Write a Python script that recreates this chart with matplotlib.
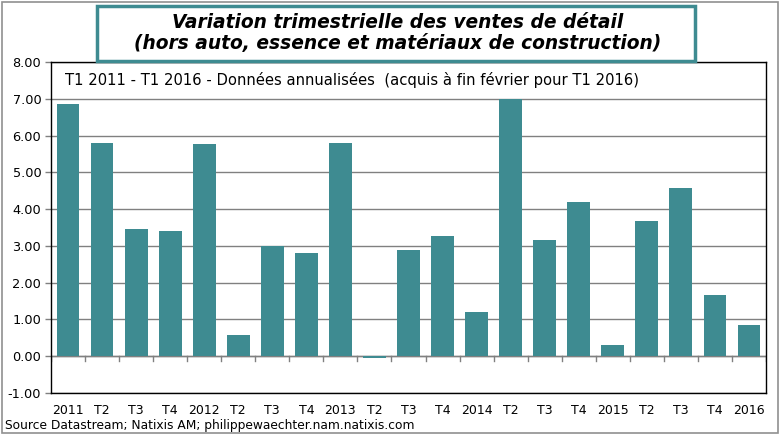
import matplotlib
matplotlib.use('Agg')
import matplotlib.pyplot as plt
from matplotlib.patches import Rectangle

# data
labels = ['2011', 'T2', 'T3', 'T4', '2012', 'T2', 'T3', 'T4', '2013', 'T2', 'T3',
          'T4', '2014', 'T2', 'T3', 'T4', '2015', 'T2', 'T3', 'T4', '2016']
values = [6.87, 5.79, 3.45, 3.40, 5.76, 0.58, 2.99, 2.80, 5.79, -0.06, 2.88,
          3.26, 1.20, 7.00, 3.16, 4.19, 0.31, 3.67, 4.57, 1.66, 0.85]
yticks = [-1, 0, 1, 2, 3, 4, 5, 6, 7, 8]

teal = '#3E8B91'
W, H = 781, 434

fig = plt.figure(figsize=(W / 100, H / 100), dpi=100)
ax = fig.add_axes([51 / W, 1 - 393 / H, 715 / W, 331 / H])

x = list(range(len(values)))
ax.bar(x, values, width=0.67, color=teal, zorder=3)

ax.set_xlim(-0.5, len(values) - 0.5)
ax.set_ylim(-1, 8)
ax.set_yticks(yticks)
ax.set_yticklabels(['%.2f' % v for v in yticks], fontsize=9.3, family='DejaVu Sans')
ax.tick_params(axis='y', length=4, width=1, color='#808080', pad=3)
ax.yaxis.grid(True, color='#808080', linewidth=1)
ax.set_axisbelow(True)

ax.set_xticks(x)
ax.set_xticklabels(labels, fontsize=9, family='DejaVu Sans')
ax.tick_params(axis='x', length=0, pad=8)

# zero line with category tick marks
ax.axhline(0, color='#808080', linewidth=1, zorder=2)
for i in range(len(values) + 1):
    ax.plot([i - 0.5, i - 0.5], [0, -0.14], color='#808080', linewidth=1, zorder=2)

for s in ax.spines.values():
    s.set_color('black')
    s.set_linewidth(1)

ax.text(-0.1, 7.52, 'T1 2011 - T1 2016 - Données annualisées  (acquis à fin février pour T1 2016)',
        fontsize=10.6, family='DejaVu Sans', va='center', ha='left', zorder=4)

# title box
fig.patches.append(Rectangle((97 / W, 1 - 61 / H), 598 / W, 55 / H, transform=fig.transFigure,
                             facecolor='white', edgecolor=teal, linewidth=2.5, zorder=5))
fig.text(398 / W, 1 - 22 / H, 'Variation trimestrielle des ventes de détail',
         fontsize=13.4, fontweight='bold', fontstyle='italic', ha='center', va='center', zorder=6)
fig.text(398 / W, 1 - 44 / H, '(hors auto, essence et matériaux de construction)',
         fontsize=13.4, fontweight='bold', fontstyle='italic', ha='center', va='center', zorder=6)

# outer chart border
fig.patches.append(Rectangle((1.5 / W, 1.5 / H), 776 / W, 431 / H, transform=fig.transFigure,
                             facecolor='none', edgecolor='#909090', linewidth=1.2))

fig.text(5 / W, 1 - 426 / H, 'Source Datastream; Natixis AM; philippewaechter.nam.natixis.com',
         fontsize=8.8, ha='left', va='center')

fig.savefig('out.png', dpi=100)
